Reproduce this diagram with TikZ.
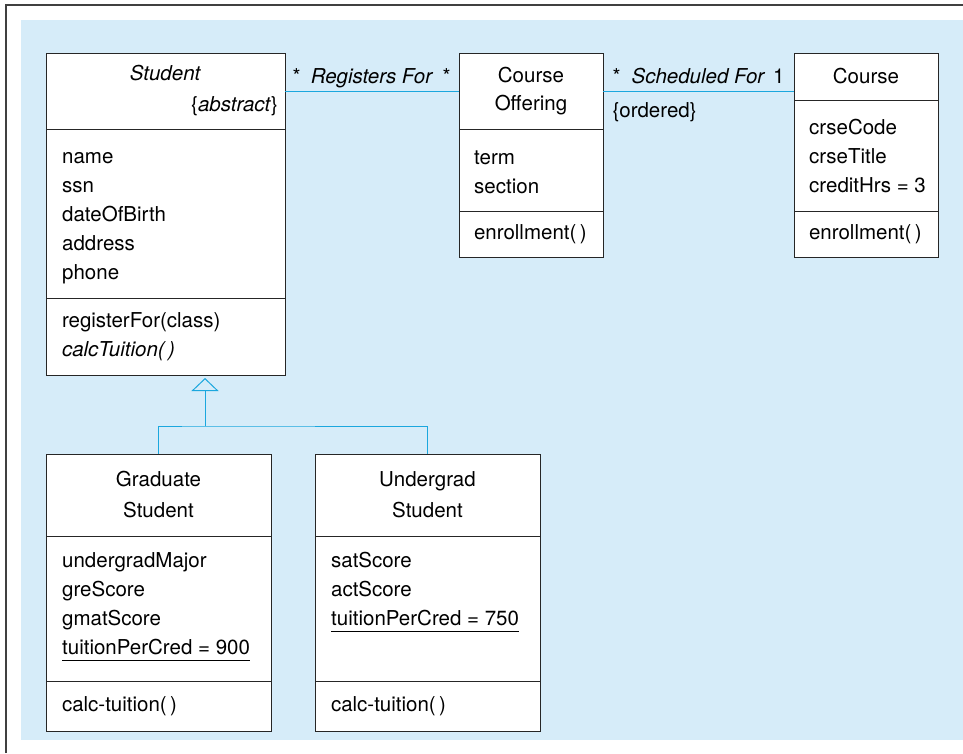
\documentclass[tikz,border=0pt]{standalone}
\usepackage{fontspec}
\setmainfont{TeX Gyre Heros}
\usetikzlibrary{arrows.meta}
\definecolor{panelblue}{RGB}{214,236,249}
\definecolor{linkblue}{RGB}{27,167,222}
\newcommand{\ulattr}[1]{\underline{#1\vphantom{g}}}

\begin{document}
\begin{tikzpicture}[
    x=1pt, y=-1pt,
    font=\fontsize{20.5}{29}\selectfont,
    cls/.style={
        draw=black!85,
        line width=1pt,
        fill=white,
        inner sep=0pt,
        outer sep=0pt,   % compartments share their borders
        anchor=north
    },
    attrs/.style={
        anchor=north west,
        inner sep=0pt,
        align=left
    },
    link/.style={draw=linkblue, line width=1pt},
    mult/.style={inner sep=0pt, yshift=8pt}
]
\useasboundingbox (0,0) rectangle (963,753);
\fill[panelblue] (21,20) rectangle (963,740);
\draw[black!75, line width=2pt] (6,753) -- (6,5) -- (963,5);

% Student
\node[cls, minimum width=239pt, minimum height=76pt, text width=225pt, align=center] (stud) at (165.5,53)
    {\textit{Student}\\[2pt]\makebox[225pt][r]{\{\textit{abstract}\}}};
\node[cls, minimum width=239pt, minimum height=169pt] (stud-att) at (stud.south) {};
\node[attrs] (stud-list) at ([xshift=16pt, yshift=-14pt]stud-att.north west)
    {\strut name\\ssn\\dateOfBirth\\address\\phone};
\node[cls, minimum width=239pt, minimum height=77pt, text width=207pt, align=left] (stud-ops) at (stud-att.south)
    {registerFor(class)\\\textit{calcTuition(\,)}};

% Course Offering
\node[cls, minimum width=144pt, minimum height=76pt, text width=130pt, align=center] (offer) at (531,53)
    {Course\\[-1pt]Offering};
\node[cls, minimum width=144pt, minimum height=82pt] (offer-att) at (offer.south) {};
\node[attrs] (offer-list) at ([xshift=15pt, yshift=-15pt]offer-att.north west)
    {\strut term\\section};
\node[cls, minimum width=144pt, minimum height=46pt, text width=114pt, align=left] (offer-ops) at (offer-att.south)
    {enrollment(\,)};

% Course
\node[cls, minimum width=144pt, minimum height=47pt, text width=130pt, align=center] (course) at (866,53)
    {Course};
\node[cls, minimum width=144pt, minimum height=111pt] (course-att) at (course.south) {};
\node[attrs] (course-list) at ([xshift=15pt, yshift=-14pt]course-att.north west)
    {\strut crseCode\\crseTitle\\creditHrs = 3};
\node[cls, minimum width=144pt, minimum height=46pt, text width=114pt, align=left] (course-ops) at (course-att.south)
    {enrollment(\,)};

% Graduate Student
\node[cls, minimum width=225pt, minimum height=82pt, text width=193pt, align=center] (grad) at (158.5,454)
    {Graduate\\[2pt]Student};
\node[cls, minimum width=225pt, minimum height=145pt] (grad-att) at (grad.south) {};
\node[attrs] (grad-list) at ([xshift=16pt, yshift=-11pt]grad-att.north west)
    {\strut undergradMajor\\greScore\\gmatScore\\\ulattr{tuitionPerCred = 900}};
\node[cls, minimum width=225pt, minimum height=50pt, text width=193pt, align=left] (grad-ops) at (grad-att.south)
    {calc-tuition(\,)};

% Undergrad Student
\node[cls, minimum width=225pt, minimum height=82pt, text width=193pt, align=center] (ugrad) at (427.5,454)
    {Undergrad\\[2pt]Student};
\node[cls, minimum width=225pt, minimum height=145pt] (ugrad-att) at (ugrad.south) {};
\node[attrs] (ugrad-list) at ([xshift=16pt, yshift=-11pt]ugrad-att.north west)
    {\strut satScore\\actScore\\\ulattr{tuitionPerCred = 750}};
\node[cls, minimum width=225pt, minimum height=50pt, text width=193pt, align=left] (ugrad-ops) at (ugrad-att.south)
    {calc-tuition(\,)};

% associations
\draw[link] (stud.east) -- (offer.west)
    node[mult, midway, anchor=base] {\textit{Registers For}}
    node[mult, pos=0, anchor=base west, xshift=7pt] {*}
    node[mult, pos=1, anchor=base east, xshift=-8pt] {*};
\coordinate (sched) at (offer.east -| course.west);
\draw[link] (offer.east) -- (sched)
    node[mult, midway, anchor=base] {\textit{Scheduled For}}
    node[mult, pos=0, anchor=base west, xshift=9pt] {*}
    node[mult, pos=1, anchor=base east, xshift=-9pt] {1}
    node[pos=0, anchor=base west, inner sep=0pt, xshift=9pt, yshift=-26pt] {\{ordered\}};

% generalization
\coordinate (gen) at (205,426);
\coordinate (gentip) at (205,378);
\draw[link] (grad.north) |- (gen) -| (ugrad.north);
\draw[link, -{Triangle[open, length=13pt, width=27pt]}] (gen) -- (gentip);
\end{tikzpicture}
\end{document}
